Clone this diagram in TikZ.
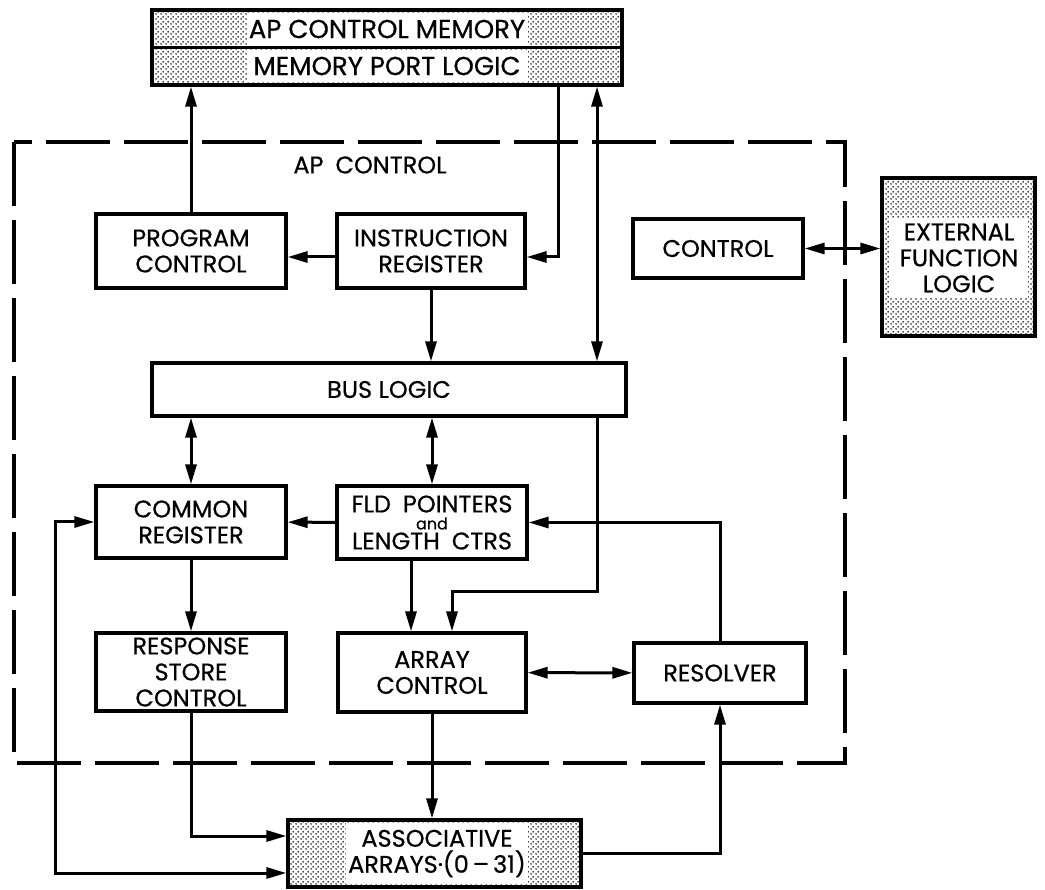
\documentclass[tikz,border=0pt]{standalone}
\usepackage{fontspec}
\setmainfont{Poppins}[FakeBold=0.6]
\usetikzlibrary{arrows.meta,patterns}
\pgfdeclarepatternformonly{stipple}{\pgfpointorigin}{\pgfqpoint{5pt}{5pt}}{\pgfqpoint{5pt}{5pt}}{%
  \pgfpathcircle{\pgfqpoint{1.25pt}{1.25pt}}{1pt}
  \pgfpathcircle{\pgfqpoint{3.75pt}{3.75pt}}{1pt}
  \pgfusepath{fill}}

\begin{document}
\begin{tikzpicture}[x=1pt,y=-1pt,
    txt/.style={align=center,inner sep=0pt,font=\fontsize{24}{26}\selectfont},
    blk/.style={txt,draw,line width=3.2pt},
    dotbox/.style={blk,pattern=stipple},
    arr/.style={line width=3pt,-{Triangle[length=20pt,width=11pt]}},
    dbl/.style={line width=3pt,{Triangle[length=20pt,width=11pt]}-{Triangle[length=20pt,width=11pt]}}]
      \useasboundingbox (0,0) rectangle (1045,890);
      \draw[line width=3.2pt,dash pattern=on 64pt off 14pt] (14,142) rectangle (845,763);
      \node[txt] (apc) at (370,165) {AP\enspace CONTROL};

      \node[dotbox,minimum width=470pt,minimum height=75pt] (mem) at (387,47.5) {};
      \node[txt,font=\fontsize{26}{28}\selectfont,fill=white,minimum width=281pt,minimum height=32pt] (memtop) at (387,29) {AP CONTROL MEMORY};
      \node[txt,font=\fontsize{26}{28}\selectfont,fill=white,minimum width=281pt,minimum height=32pt] (memport) at (387,66) {MEMORY PORT LOGIC};
      \draw[line width=3.2pt] (mem.west) -- (mem.east);

      \node[blk,minimum width=190pt,minimum height=74pt] (pc) at (191,251) {PROGRAM\\CONTROL};
      \node[blk,minimum width=188pt,minimum height=74pt] (ir) at (431,251) {INSTRUCTION\\REGISTER};
      \node[blk,minimum width=170pt,minimum height=59pt] (ctl) at (718,248.5) {CONTROL};
      \node[dotbox,minimum width=153pt,minimum height=158pt] (efl) at (958.5,257) {};
      \node[txt,fill=white,minimum width=138pt,minimum height=80pt] (efltxt) at (959,258) {EXTERNAL\\FUNCTION\\LOGIC};
      \node[blk,minimum width=474pt,minimum height=53pt] (bus) at (389,389.5) {BUS LOGIC};
      \node[blk,minimum width=190pt,minimum height=72pt] (cr) at (191,522) {COMMON\\REGISTER};
      \node[blk,minimum width=190pt,minimum height=73pt] (fld) at (432,522.5)
        {FLD\enspace POINTERS\\[-9pt]{\fontsize{16}{16}\selectfont and}\\[-6pt]LENGTH\enspace CTRS};
      \node[blk,minimum width=190pt,minimum height=78pt] (rsc) at (191,672) {RESPONSE\\STORE\\CONTROL};
      \node[blk,minimum width=188pt,minimum height=79pt] (ac) at (432,672.5) {ARRAY\\CONTROL};
      \node[blk,minimum width=172pt,minimum height=60pt] (res) at (720,673) {RESOLVER};
      \node[dotbox,minimum width=293pt,minimum height=67pt] (aa) at (434.5,853.5) {};
      \node[txt,fill=white,minimum width=182pt,minimum height=61pt] (aatxt) at (437,853.5) {ASSOCIATIVE\\ARRAYS·(0\,--\,31)};

      \draw[arr] (pc) -- (pc |- mem.south);
      \draw[arr] ([yshift=-6pt]ir.west) -- ([yshift=-6pt]pc.east);
      \draw[arr] ([xshift=171pt]mem.south) |- ([yshift=-6pt]ir.east);
      \draw[dbl] ([xshift=210pt]mem.south) -- ([xshift=208pt]bus.north);
      \draw[arr] (ir) -- (ir |- bus.north);
      \draw[dbl] (ctl) -- (ctl -| efl.west);
      \draw[arr] ([xshift=208pt]bus.south) -- ++(0,174) -| ([xshift=20pt]ac.north);
      \draw[dbl] (cr) -- (cr |- bus.south);
      \draw[dbl] (fld) -- (fld |- bus.south);
      \draw[arr] (fld) -- (cr);
      \draw[dbl] (cr.west) -- ++(-39,0) |- ([yshift=-19.5pt]aa.west);
      \draw[arr] (cr) -- (rsc);
      \draw[arr] ([xshift=-21pt]fld.south) -- ([xshift=-21pt]ac.north);
      \draw[arr] (rsc) |- ([yshift=17.5pt]aa.west);
      \draw[arr] (ac) -- (ac |- aa.north);
      \draw[dbl] (ac) -- (res);
      \draw[arr] (aa) -| (res);
      \draw[arr] (res) |- (fld);
    \end{tikzpicture}
\end{document}
